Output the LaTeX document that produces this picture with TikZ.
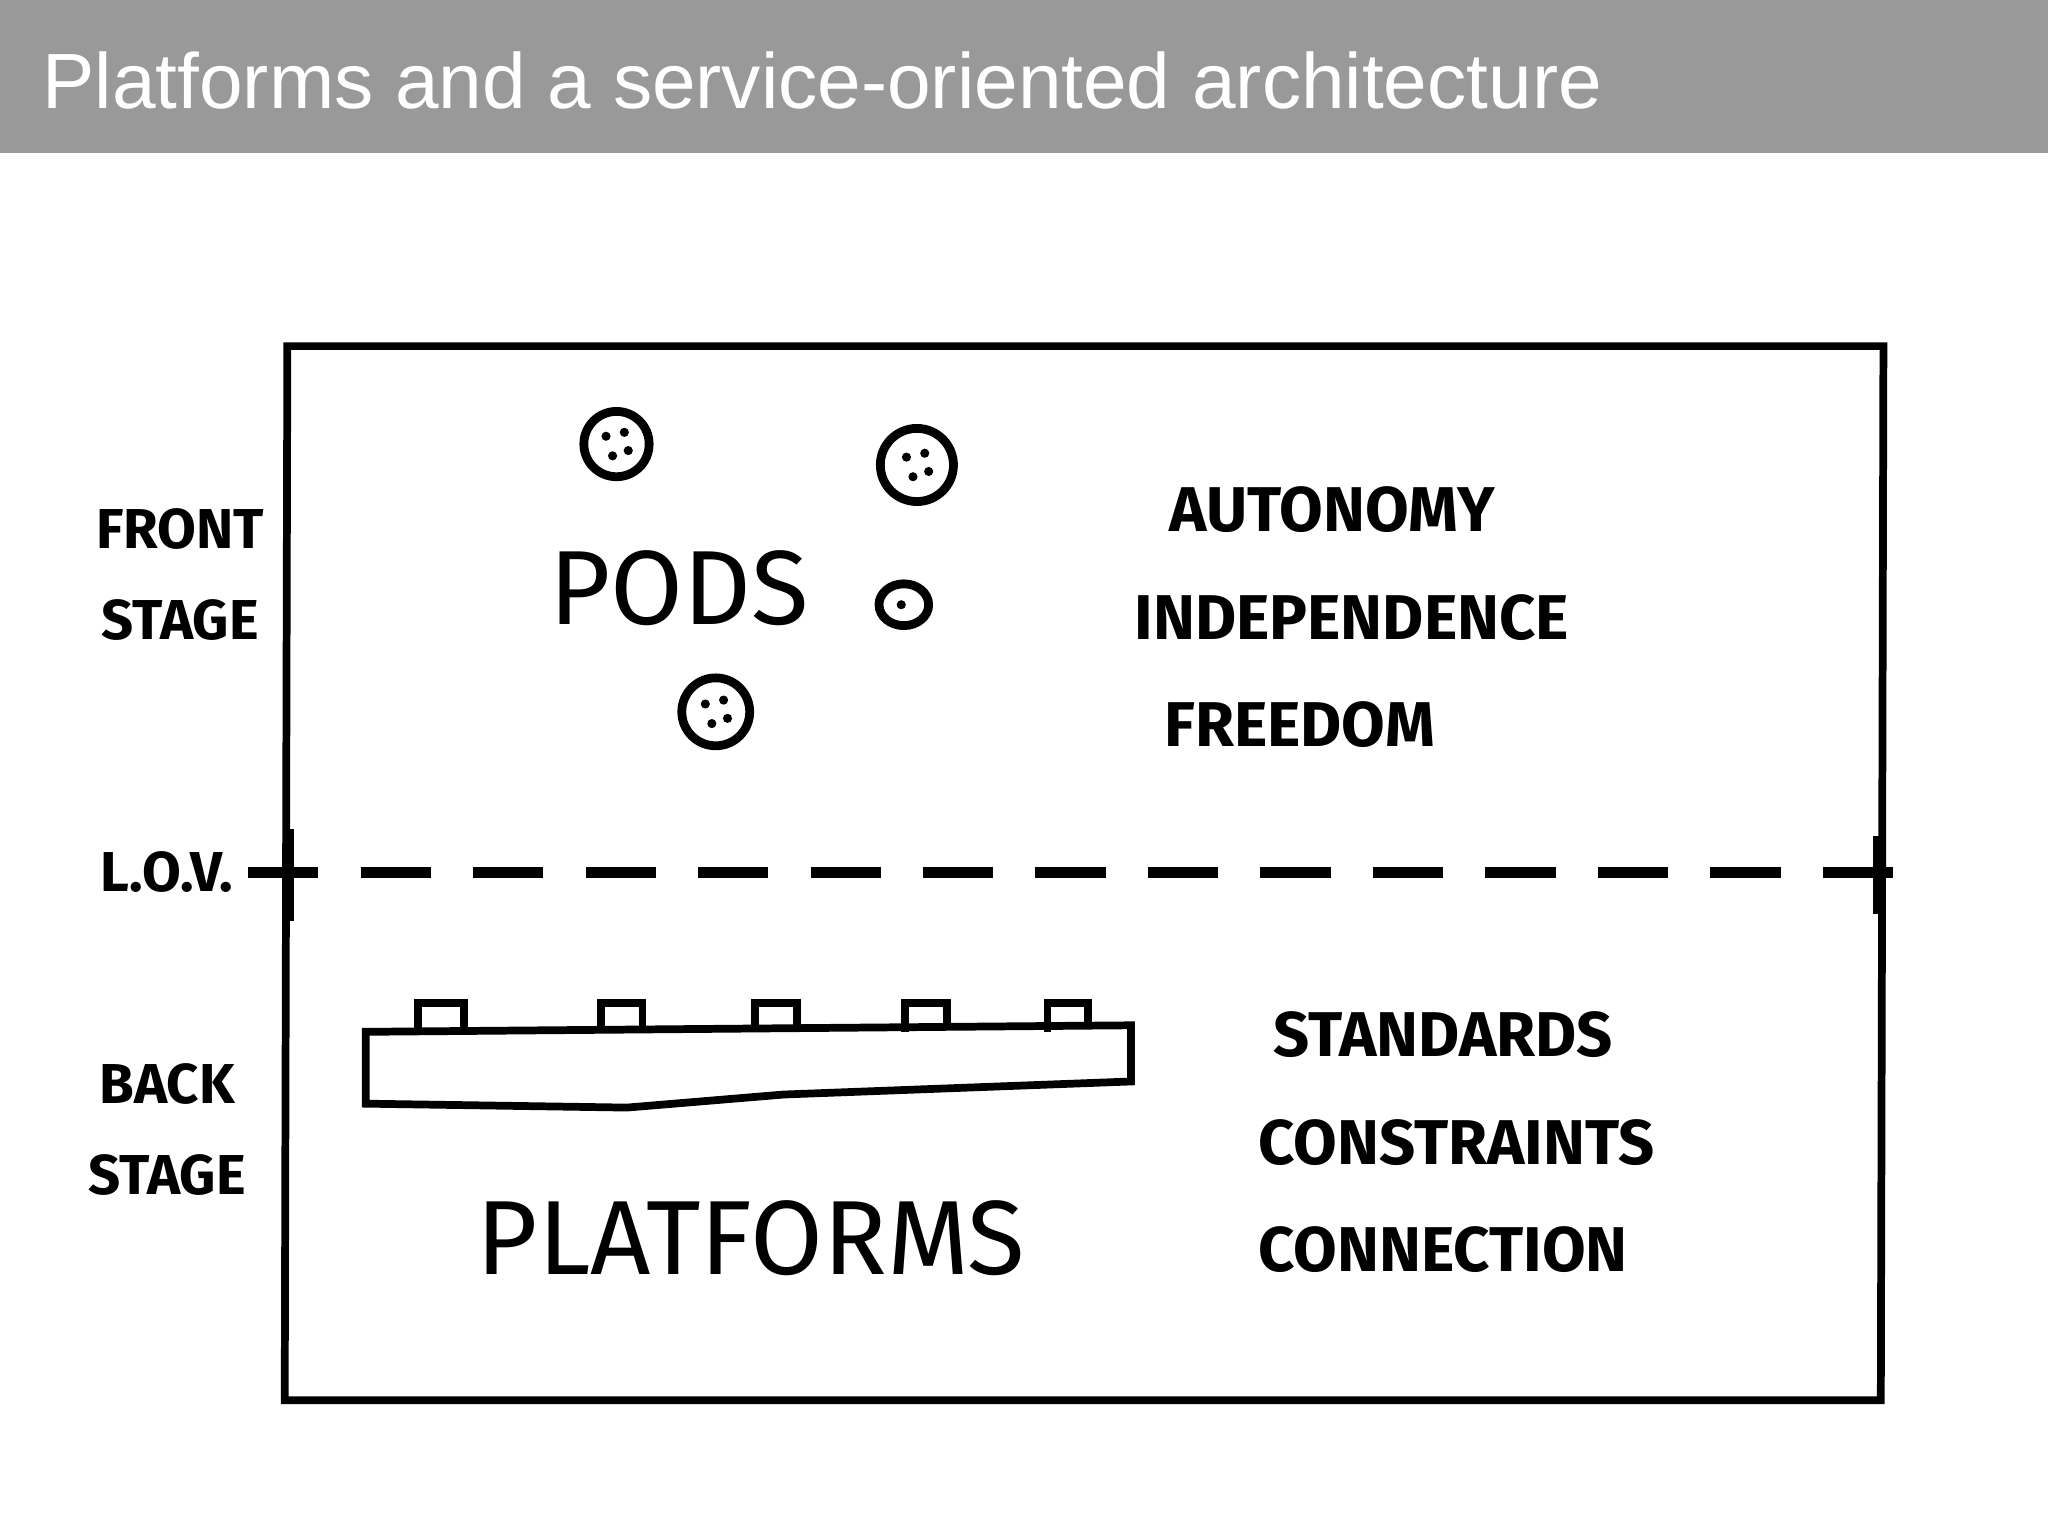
\documentclass[tikz,border=0pt]{standalone}
\usepackage{fontspec}
\setmainfont{Liberation Sans}
\newfontfamily\hand{Fira Sans}
\begin{document}
\begin{tikzpicture}[x=0.01306cm,y=-0.01306cm,
  ln/.style={line width=2.2pt,black},
  word/.style={font=\hand\bfseries\fontsize{18}{18}\selectfont,inner sep=0},
  side/.style={font=\hand\bfseries\fontsize{16}{20}\selectfont,inner sep=0,align=center},
  big/.style={font=\hand\fontsize{30}{30}\selectfont,inner sep=0},
  pod/.style={ln,line width=2.5pt}]
\useasboundingbox (0,0) rectangle (1568,1176);
\fill[black!40] (0,0) rectangle (1568,117);
\node[anchor=base west,text=white,font=\fontsize{22.3}{22.3}\selectfont,inner sep=0] (title) at (32,83) {Platforms and a service-oriented architecture};
\draw[ln] (220,265) -- (1442,265) -- (1440,1072) -- (218,1072) -- cycle;
\coordinate (l) at (190,668); \coordinate (r) at (1460,668);
\draw[ln,line width=3pt,dash pattern=on 20pt off 12pt] (l) -- (r);
\draw[ln] (222,635) -- (222,705); \draw[ln] (1437,640) -- (1437,700);
\node[side] (front) at (138,440) {FRONT\\[6pt]STAGE};
\node[side] (lov) at (128,668) {L.O.V.};
\node[side] (back) at (128,865) {BACK\\[6pt]STAGE};
\node[big] (pods) at (520,450) {PODS};
\node[big] (plat) at (575,948) {PLATFORMS};
\node[word] (a1) at (1020,390) {AUTONOMY};
\node[word] (a2) at (1035,473) {INDEPENDENCE};
\node[word] (a3) at (995,555) {FREEDOM};
\node[word] (b1) at (1105,792) {STANDARDS};
\node[word] (b2) at (1115,875) {CONSTRAINTS};
\node[word] (b3) at (1105,957) {CONNECTION};
\foreach \x/\y/\r in {472/340/25,702/356/28,548/545/26}{
  \draw[pod] (\x,\y) circle (\r);
  \fill (\x-8,\y-6) circle (3.5); \fill (\x+6,\y-9) circle (3.5);
  \fill (\x+9,\y+5) circle (3.5); \fill (\x-3,\y+9) circle (3.5);}
\draw[pod] (692,463) ellipse (19 and 16); \fill (690,463) circle (3.5);
\draw[ln] (280,790) -- (866,785) -- (866,828) -- (600,838) -- (480,848) -- (280,845) -- cycle;
\foreach \a/\b in {320/355,460/492,578/610,693/725,802/833}
  \draw[ln] (\a,790) -- (\a,768) -- (\b,768) -- (\b,788);
\end{tikzpicture}
\end{document}
